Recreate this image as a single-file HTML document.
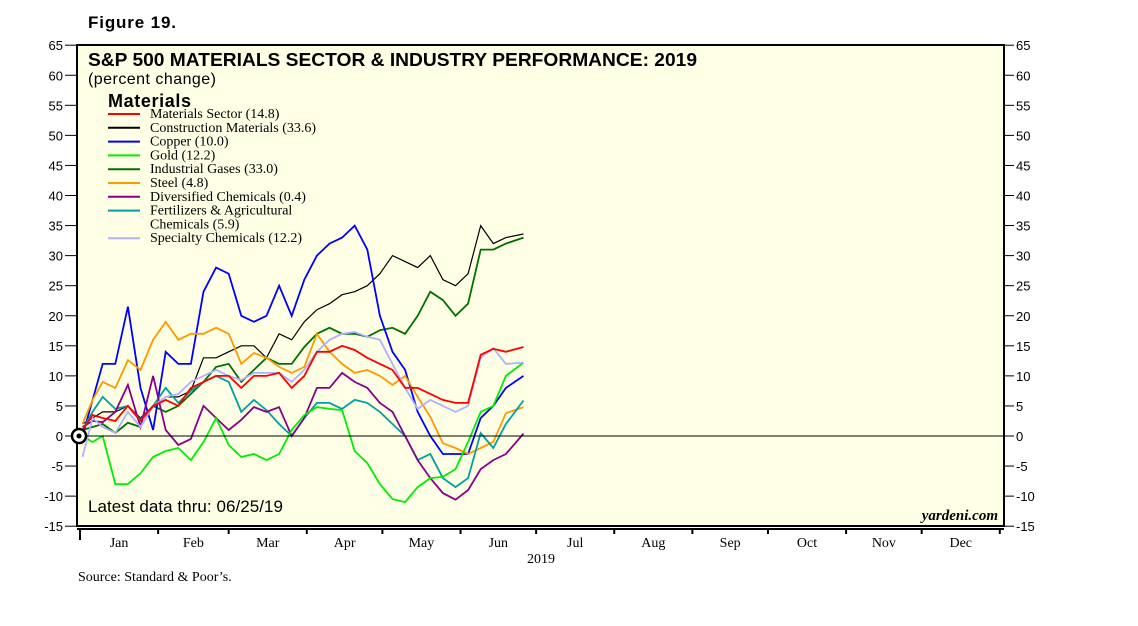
<!DOCTYPE html>
<html><head><meta charset="utf-8"><style>
body{margin:0;background:#fff;width:1138px;height:621px;overflow:hidden}
svg text{font-family:"Liberation Serif",serif}
</style></head><body>
<svg width="1138" height="621" id="c">
<rect x="77" y="45" width="927" height="481" fill="#ffffe6" stroke="#000" stroke-width="2"/>
<text x="88" y="28" font-weight="bold" font-size="17" textLength="88" style="font-family:'Liberation Sans',sans-serif">Figure 19.</text>
<text x="88" y="66" font-weight="bold" font-size="18" textLength="609" lengthAdjust="spacingAndGlyphs" style="font-family:'Liberation Sans',sans-serif">S&amp;P 500 MATERIALS SECTOR &amp; INDUSTRY PERFORMANCE: 2019</text>
<text x="88" y="84" font-size="16" textLength="128" style="font-family:'Liberation Sans',sans-serif">(percent change)</text>
<text x="108" y="107" font-weight="bold" font-size="18" textLength="83" style="font-family:'Liberation Sans',sans-serif">Materials</text>
<text x="88" y="512" font-size="17" textLength="195" style="font-family:'Liberation Sans',sans-serif">Latest data thru: 06/25/19</text>
<text x="998" y="520" font-size="15" font-style="italic" font-weight="bold" text-anchor="end">yardeni.com</text>
<text x="541" y="563" font-size="14" text-anchor="middle">2019</text>
<text x="78" y="581" font-size="14">Source: Standard &amp; Poor’s.</text>
<g id="axes"></g><g id="lines"></g><g id="legend"></g>
<line x1="77" y1="436" x2="1004" y2="436" stroke="#000" stroke-width="1"/>
<circle cx="79" cy="436" r="7" fill="#fff" stroke="#000" stroke-width="2.5"/>
<circle cx="79" cy="436" r="2.5" fill="#000"/>
</svg>
<script>
const days=[1,5,9,14,19,24,29,34,39,44,49,54,59,64,69,74,79,84,89,94,99,104,109,114,119,124,129,134,139,144,149,154,159,164,169,176];
const seriesNames=["Materials Sector (14.8)","Construction Materials (33.6)","Copper (10.0)","Gold (12.2)","Industrial Gases (33.0)","Steel (4.8)","Diversified Chemicals (0.4)","Fertilizers & Agricultural|Chemicals (5.9)","Specialty Chemicals (12.2)"];
const seriesColors=["#ff0000","#000000","#0000ff","#00ee00","#007000","#ff9900","#8b008b","#00a0a0","#b0b0ff"];
const materials=[1,3.5,3,2.5,5,2.5,5,6,5,8,9,10,10,8,10,10,10.5,8,10,14,14,15,14.3,13,12,11,8,8,7,6,5.5,5.5,13.5,14.5,14,14.8];
const construction=[2,3,4,4,5,3,5,6.5,6.5,7.5,13,13,14,15,15,13,17,16,19,21,22,23.5,24,25,27,30,29,28,30,26,25,27,35,32,33,33.6];
const copper=[0,6,12,12,21.5,8,1,14,12,12,24,28,27,20,19,20,25,20,26,30,32,33,35,31,20,14,11,4,0,-3,-3,-3,3,5,8,10];
const gold=[0,-1,0,-8,-8,-6.2,-3.5,-2.5,-2,-4,-1,3,-1.5,-3.5,-3,-4,-3,1,3.5,4.8,4.5,4.3,-2.5,-4.5,-8,-10.5,-11,-8.5,-7,-6.8,-5.5,-1,4,5,10,12.2];
const gases=[1,1.5,2,0.5,2.2,1.5,5,4,5,7,9,11.5,12,9,11,13,12,12,14.8,17,18,17,17,16.5,17.6,18,17,20,24,22.6,20,22,31,31,32,33];
const steel=[2,6,9,8,12.6,11,16,19,16,17,17,18,17,12,13.8,13,11.5,10.5,11.5,17,14,12,10.5,11,10,8.5,10,6.5,3.2,-1.2,-2,-3,-2,-1,3.8,4.8];
const diversified=[1.5,2.5,2.3,4,8.5,1.5,10,1,-1.5,-0.5,5,3,1,2.7,4.8,4,4.8,0,3,8,8,10.5,9,8,5.5,4,0,-4,-7,-9.5,-10.6,-9,-5.5,-4,-3,0.4];
const fertilizers=[1,4,6.5,4.5,5,2.7,5,8,5.5,7.5,9,10,9,4,6,4.3,2,0,3,5.5,5.5,4.5,6,5.5,4,2,0,-4,-3,-7,-8.5,-7,0.5,-2,2,5.9];
const specialty=[-3.5,3,1.5,0.5,4,1.5,5,6.5,7,9,10,11,10,9.3,10.5,10.5,10.5,9,11,14,16,17,17.3,16.5,16,12,8,4.5,6,5,4,5,13,14.6,12,12.2];
const yTicks=[65,60,55,50,45,40,35,30,25,20,15,10,5,0,-5,-10,-15];
const months=["Jan","Feb","Mar","Apr","May","Jun","Jul","Aug","Sep","Oct","Nov","Dec"];
const monthStarts=[0,31,59,90,120,151,181,212,243,273,304,334,365];
const allSeries=[materials,construction,copper,gold,gases,steel,diversified,fertilizers,specialty];
const NS="http://www.w3.org/2000/svg";
const X=d=>80+d*2.52, Y=v=>436-v*6.0125;
function mk(t,a,p){const e=document.createElementNS(NS,t);for(const k in a)e.setAttribute(k,a[k]);p.appendChild(e);return e;}
const ax=document.getElementById('axes');
yTicks.forEach(v=>{
 let l=mk('line',{x1:65,x2:77,y1:Y(v),y2:Y(v),stroke:'#000'},ax);
 
 
 let r=mk('line',{x1:1004,x2:1014,y1:Y(v),y2:Y(v),stroke:'#000'},ax);
 
 
 let t=mk('text',{x:63,y:Y(v)+5,'text-anchor':'end','font-size':13,style:"font-family:'Liberation Sans',sans-serif"},ax);t.textContent=v;
 
 
 let t2=mk('text',{x:1016,y:Y(v)+5,'font-size':13,style:"font-family:'Liberation Sans',sans-serif"},ax);t2.textContent=v;
 
 
});
let base=mk('line',{x1:77,x2:1004,y1:529,y2:529,stroke:'#000','stroke-width':2},ax);


monthStarts.forEach((d,i)=>{
 let l=mk('line',{x1:X(d),x2:X(d),y1:528,y2:i==0?540:534,stroke:'#000','stroke-width':2},ax);
 
 
 if(i<12){let t=mk('text',{x:X((d+monthStarts[i+1])/2),y:547,'text-anchor':'middle','font-size':14},ax);t.textContent=months[i];
 
 }
});
const lg=document.getElementById('lines');
[1,4,2,5,7,6,3,8,0].forEach(i=>{
 const p=mk('polyline',{points:allSeries[i].map((v,j)=>X(days[j]).toFixed(1)+','+Y(v).toFixed(1)).join(' '),fill:'none',stroke:seriesColors[i],'stroke-width':i==1?1.2:1.8},lg);
 
 
});
const lgd=document.getElementById('legend');
let yy=118;
seriesNames.forEach((n,i)=>{
 const l=mk('line',{x1:108,x2:140,y1:yy-4,y2:yy-4,stroke:seriesColors[i],'stroke-width':2},lgd);
 
 
 n.split('|').forEach((s,k)=>{
  const t=mk('text',{x:150,y:yy,'font-size':14},lgd);t.textContent=s;
  
  
  yy+=13.8;
 });
});
</script>
</body></html>
